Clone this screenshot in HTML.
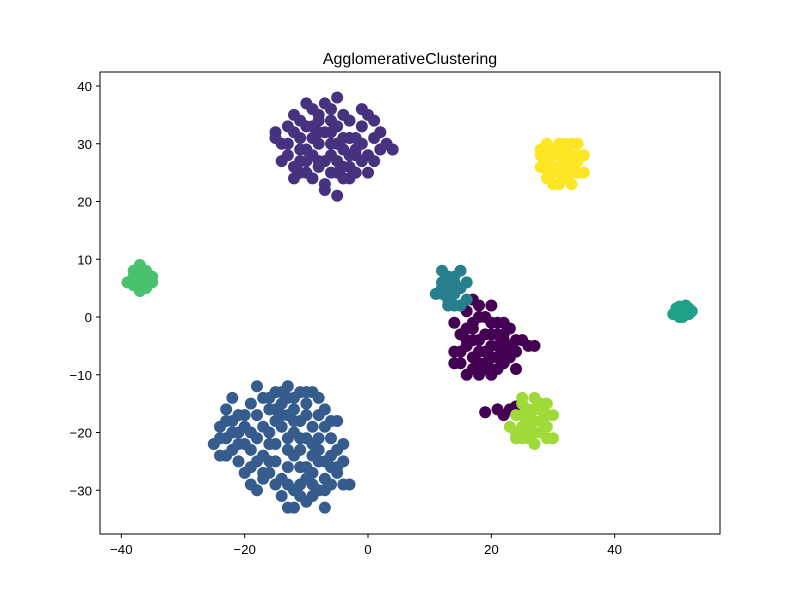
<!DOCTYPE html>
<html><head><meta charset="utf-8"><style>
body{margin:0;background:#fff;font-family:"Liberation Sans",sans-serif}
svg text{font-family:"Liberation Sans",sans-serif;font-size:13.3px;fill:#000}
</style></head><body>
<svg id="chart" width="800" height="600" xmlns="http://www.w3.org/2000/svg">
<rect width="800" height="600" fill="#fff"/>
<text x="410" y="64" text-anchor="middle" style="font-size:16px">AgglomerativeClustering</text>
<g id="pts"></g>
<rect x="100" y="72" width="620" height="462" fill="none" stroke="#000" stroke-width="1"/>
<g id="axes"></g>
</svg>
<script>
const xTicks=[-40,-20,0,20,40];
const yTicks=[-30,-20,-10,0,10,20,30,40];
const clusterColors=["#440154","#46327e","#365c8d","#277f8e","#1fa187","#4ac16d","#a0da39","#fde725"];
const c0=[[14,-1],[15,-3],[16,1],[17,-2],[18,2],[19,0],[20,-1],[21,-3],[22,-4],[23,-5],[24,-6],[25,-4],[26,-5],[27,-5],[16,-5],[17,-7],[18,-8],[19,-6],[20,-5],[21,-7],[22,-8],[20,-10],[18,-10],[15,-8],[14,-8],[16,-4],[19,-3],[21,-1],[23,-2],[17,3],[15,2],[20,2],[22,-6],[24,-9],[19,-9],[17,-9],[14,-6],[16,-10],[21,-9],[23,-7],[18,-4],[20,-7],[22,-3],[19,-16.5],[22,-17],[23,-16],[24,-15.5],[21,-16],[17,-1],[18,-6],[20,-3],[21,-5],[19,-8],[15,-6],[16,-2],[22,-1],[24,-4],[18,0],[20,-9],[17,-4]];
const c1=[[-15,32],[-14,30],[-13,33],[-12,35],[-11,31],[-10,29],[-9,36],[-8,34],[-7,32],[-6,30],[-5,33],[-4,35],[-3,31],[-2,29],[-1,33],[0,35],[1,31],[2,29],[3,30],[-13,28],[-12,26],[-11,25],[-10,27],[-9,24],[-8,26],[-7,23],[-6,25],[-5,27],[-4,24],[-3,26],[-2,28],[-1,27],[0,25],[-7,22],[-5,21],[-9,33],[-7,37],[-5,38],[-10,37],[-8,30],[-6,28],[-4,29],[-11,34],[-14,27],[-12,24],[-3,34],[-1,36],[2,32],[4,29],[-2,25],[-9,31],[-11,29],[-6,34],[-4,31],[-8,27],[-15,31],[-10,25],[-12,32],[-10,33],[-8,32],[-6,36],[-5,30],[-3,28],[-1,30],[1,34],[-7,27],[-9,28],[-11,27],[-4,26],[-2,31],[0,28],[-6,32],[-8,35],[-13,30],[-5,25],[-3,24],[1,27]];
const c2=[[-25,-22],[-24,-19],[-23,-16],[-22,-14],[-24,-24],[-23,-21],[-22,-18],[-21,-20],[-20,-17],[-19,-15],[-18,-12],[-17,-14],[-16,-16],[-15,-13],[-14,-15],[-13,-12],[-12,-14],[-11,-13],[-10,-15],[-9,-13],[-8,-14],[-7,-16],[-21,-25],[-20,-27],[-19,-23],[-18,-21],[-17,-24],[-16,-20],[-15,-22],[-14,-19],[-13,-17],[-12,-20],[-11,-18],[-10,-17],[-9,-19],[-8,-21],[-7,-19],[-6,-18],[-5,-18],[-20,-22],[-22,-23],[-19,-29],[-18,-30],[-16,-27],[-15,-25],[-14,-28],[-13,-26],[-12,-24],[-11,-23],[-10,-26],[-9,-24],[-8,-23],[-7,-25],[-6,-24],[-5,-23],[-4,-25],[-3,-29],[-14,-31],[-13,-33],[-12,-30],[-11,-29],[-10,-32],[-9,-31],[-8,-30],[-7,-28],[-6,-29],[-5,-27],[-4,-29],[-7,-33],[-12,-33],[-17,-19],[-21,-22],[-23,-18],[-16,-25],[-13,-21],[-10,-21],[-6,-21],[-5,-26],[-15,-29],[-17,-28],[-19,-26],[-20,-19],[-24,-21],[-22,-20],[-18,-17],[-16,-14],[-14,-13],[-12,-16],[-10,-13],[-8,-17],[-12,-18],[-14,-17],[-11,-21],[-9,-22],[-13,-23],[-11,-26],[-9,-27],[-13,-29],[-11,-31],[-9,-29],[-7,-30],[-6,-26],[-4,-22],[-18,-25],[-16,-22],[-15,-18],[-19,-20],[-21,-17],[-23,-24],[-17,-27],[-13,-14],[-15,-16],[-8,-25],[-10,-28]];
const c3=[[11,4],[12,6],[12,8],[13,5],[13,3],[14,7],[14,4],[15,5],[15,2],[16,6],[16,3],[13,7],[12,4],[14,2],[15,8],[13,2],[14,6],[12,5]];
const c4=[[49.5,0.5],[50,1.5],[50.5,0],[51,1],[51.5,2],[52,0.5],[52.5,1],[51,0],[50,0.5],[51.5,1.5],[50.5,1.8],[52,1.5]];
const c5=[[-39,6],[-38,8],[-38,7],[-37,9],[-37,6],[-36,8],[-36,5],[-35,7],[-37,4.5],[-36,6.5],[-38,5.5],[-35,6],[-37,7.5],[-36,7.5],[-38,6.5]];
const c6=[[23,-19],[24,-17],[24,-21],[25,-15],[25,-19],[26,-17],[26,-21],[27,-14],[27,-18],[27,-22],[28,-16],[28,-20],[29,-15],[29,-19],[30,-17],[30,-21],[25,-14],[26,-20],[28,-18],[24,-20],[29,-21],[25,-17],[26,-16],[27,-20],[28,-15],[26,-18.5],[29,-17],[27,-16],[25,-21]];
const c7=[[28,29],[28,26],[29,30],[29,27],[29,24],[30,28],[30,25],[31,30],[31,26],[31,23],[32,29],[32,27],[32,24],[33,30],[33,26],[34,28],[34,25],[35,28],[35,25],[30,23],[33,23],[28,28],[34,30],[29,28],[30,26],[31,28],[32,26],[33,28],[31,25],[30,29],[32,30],[34,27],[29,25.5],[33,25]];
const clusters=[c0,c1,c2,c3,c4,c5,c6,c7];
const X=v=>368+v*6.167, Y=v=>317-v*5.775;
const NS="http://www.w3.org/2000/svg";
const pts=document.getElementById('pts'), ax=document.getElementById('axes');
clusters.forEach((c,ci)=>c.forEach(p=>{
 const e=document.createElementNS(NS,'circle');
 e.setAttribute('cx',X(p[0]));e.setAttribute('cy',Y(p[1]));e.setAttribute('r',6);e.setAttribute('fill',clusterColors[ci]);
 
 
 pts.appendChild(e);
}));
xTicks.forEach(t=>{
 const l=document.createElementNS(NS,'line');l.setAttribute('x1',X(t));l.setAttribute('x2',X(t));l.setAttribute('y1',534);l.setAttribute('y2',538);l.setAttribute('stroke','#000');
 
 
 ax.appendChild(l);
 const s=document.createElementNS(NS,'text');s.setAttribute('x',X(t));s.setAttribute('y',554);s.setAttribute('text-anchor','middle');s.textContent=t<0?'\u2212'+(-t):t;
 
 
 ax.appendChild(s);
});
yTicks.forEach(t=>{
 const l=document.createElementNS(NS,'line');l.setAttribute('x1',96);l.setAttribute('x2',100);l.setAttribute('y1',Y(t));l.setAttribute('y2',Y(t));l.setAttribute('stroke','#000');
 
 
 ax.appendChild(l);
 const s=document.createElementNS(NS,'text');s.setAttribute('x',92);s.setAttribute('y',Y(t)+5);s.setAttribute('text-anchor','end');s.textContent=t<0?'\u2212'+(-t):t;
 
 
 ax.appendChild(s);
});
</script>
</body></html>
